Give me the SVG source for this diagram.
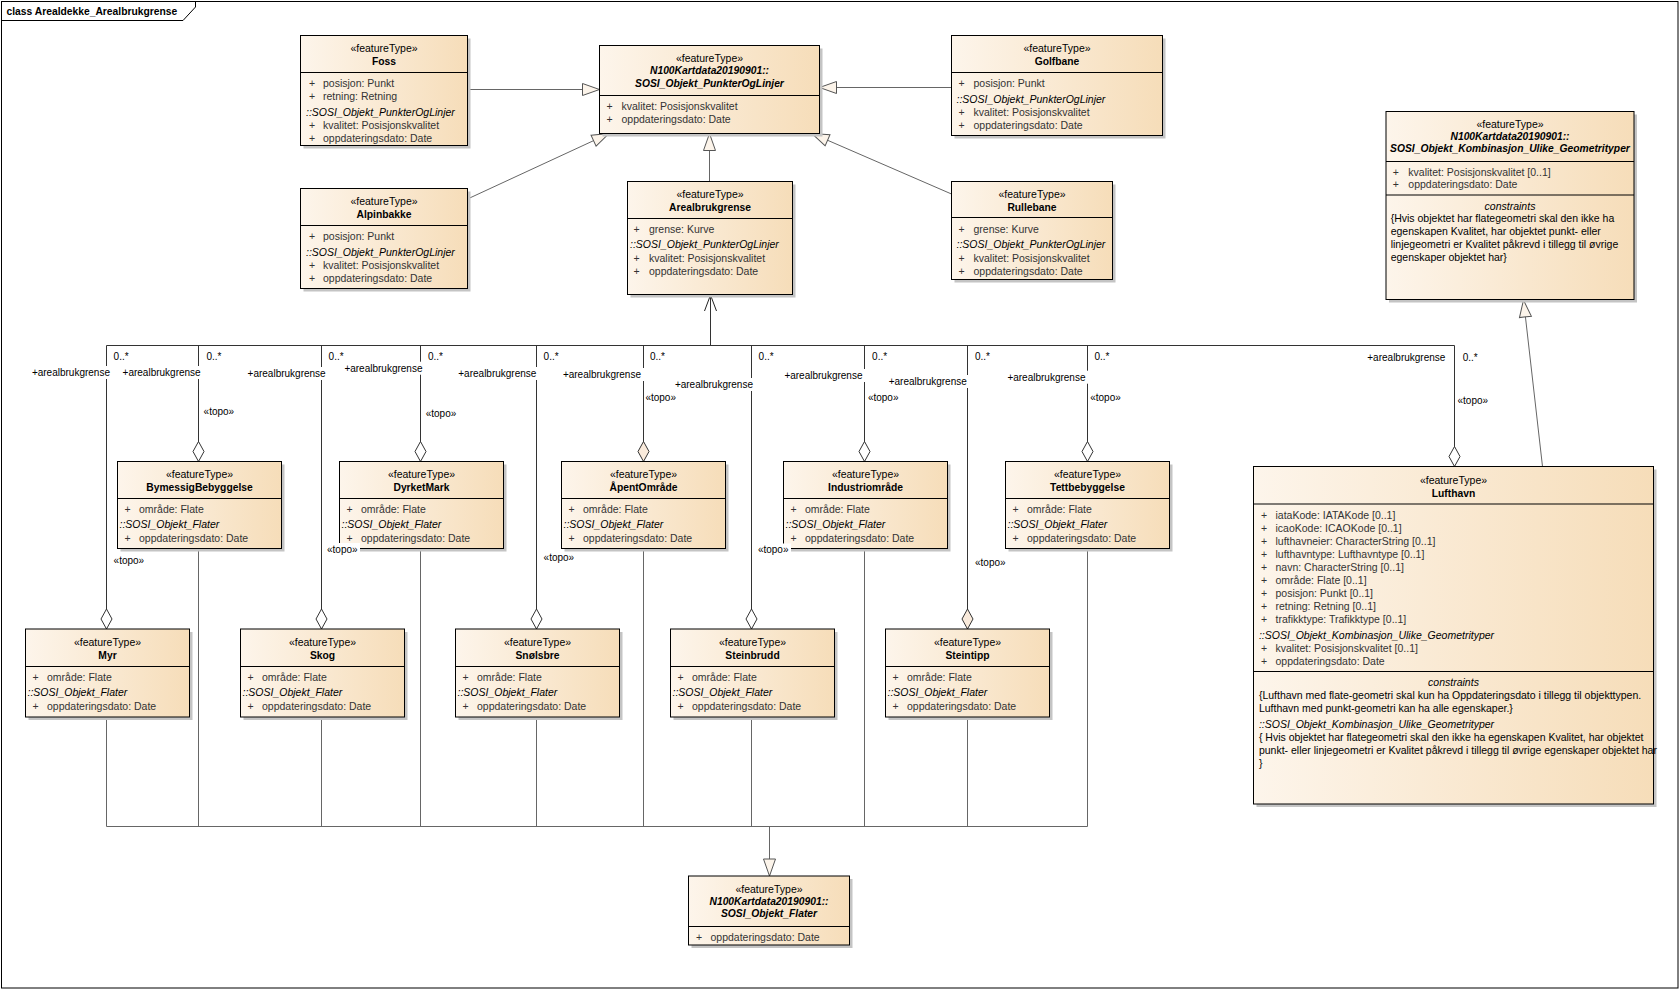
<svg xmlns="http://www.w3.org/2000/svg" width="1680" height="990" viewBox="0 0 1680 990">
<defs>
<linearGradient id="g" x1="0" y1="0" x2="1" y2="0">
<stop offset="0" stop-color="#fdf5eb"/>
<stop offset="1" stop-color="#f6ddb9"/>
</linearGradient>
<marker id="tri" markerUnits="userSpaceOnUse" markerWidth="20" markerHeight="14" refX="17" refY="6" orient="auto" overflow="visible">
<path d="M0,0 L17,6 L0,12 z" fill="#fcf4ea" stroke="#555" stroke-width="1"/>
</marker>
<marker id="dia" markerUnits="userSpaceOnUse" markerWidth="22" markerHeight="13" refX="20" refY="5.5" orient="auto" overflow="visible">
<path d="M0,5.5 L10,0 L20,5.5 L10,11 z" fill="#ffffff" stroke="#333" stroke-width="1"/>
</marker>
<marker id="diab" markerUnits="userSpaceOnUse" markerWidth="22" markerHeight="13" refX="20" refY="5.5" orient="auto" overflow="visible">
<path d="M0,5.5 L10,0 L20,5.5 L10,11 z" fill="#f9eadb" stroke="#333" stroke-width="1"/>
</marker>
<marker id="open" markerUnits="userSpaceOnUse" markerWidth="18" markerHeight="14" refX="16" refY="6" orient="auto" overflow="visible">
<path d="M0,0 L16,6 L0,12" fill="none" stroke="#222" stroke-width="1"/>
</marker>
</defs>
<style>
text{font-family:"Liberation Sans",Arial,sans-serif;font-size:10.5px;fill:#000}
.c{text-anchor:middle}
.e{text-anchor:end}
.b{font-weight:bold;font-size:10.3px}
.i{font-style:italic}
.a{fill:#333}
.l{font-size:10px}
.box{fill:url(#g);stroke:#000;stroke-width:1}
.sh{fill:#c4c4c4}
.sep{stroke:#000;stroke-width:1}
.as{fill:none;stroke:#333;stroke-width:1}
.ge{fill:none;stroke:#666;stroke-width:1}
.bg{fill:#fff}
</style>
<rect width="1680" height="990" fill="#fff"/>
<g id="frame">
<rect x="1.5" y="1.5" width="1676.5" height="986.5" fill="none" stroke="#000"/>
<path d="M1.5,20.5 H183 L195.5,7 V1.5" fill="none" stroke="#000"/>
<text x="6.5" y="14.5" class="b">class Arealdekke_Arealbrukgrense</text>
</g>

<g id="connectors">
<path class="ge" d="M467.5,89.5 H599.5" marker-end="url(#tri)"/>
<path class="ge" d="M951.5,87.5 H819.5" marker-end="url(#tri)"/>
<path class="ge" d="M467.5,199 L609,133.5" marker-end="url(#tri)"/>
<path class="ge" d="M951.5,194 L812,133.5" marker-end="url(#tri)"/>
<path class="ge" d="M709.5,181.5 V133.5" marker-end="url(#tri)"/>
<path class="ge" d="M1542.5,466.5 L1523.5,300" marker-end="url(#tri)"/>
<path class="ge" d="M106.5,716.5 V826.5 M198.5,548.5 V826.5 M321.5,716.5 V826.5 M420.5,548.5 V826.5 M536.5,716.5 V826.5 M643.5,548.5 V826.5 M751.5,716.5 V826.5 M864.5,548.5 V826.5 M967.5,716.5 V826.5 M1087.5,548.5 V826.5 M106.5,826.5 H1087.5"/>
<path class="ge" d="M769.5,826.5 V876" marker-end="url(#tri)"/>
<path class="as" d="M710.5,345.5 V295" marker-end="url(#open)"/>
<path class="as" d="M710.5,345.5 H106.5 V629" marker-end="url(#dia)"/>
<path class="as" d="M710.5,345.5 H198.5 V461.5" marker-end="url(#dia)"/>
<path class="as" d="M710.5,345.5 H321.5 V629" marker-end="url(#dia)"/>
<path class="as" d="M710.5,345.5 H420.5 V461.5" marker-end="url(#dia)"/>
<path class="as" d="M710.5,345.5 H536.5 V629" marker-end="url(#dia)"/>
<path class="as" d="M710.5,345.5 H643.5 V461.5" marker-end="url(#diab)"/>
<path class="as" d="M710.5,345.5 H751.5 V629" marker-end="url(#dia)"/>
<path class="as" d="M710.5,345.5 H864.5 V461.5" marker-end="url(#dia)"/>
<path class="as" d="M710.5,345.5 H967.5 V629" marker-end="url(#diab)"/>
<path class="as" d="M710.5,345.5 H1087.5 V461.5" marker-end="url(#dia)"/>
<path class="as" d="M710.5,345.5 H1454.5 V466.5" marker-end="url(#dia)"/>
<g class="labels">
<rect class="bg" x="30" y="366" width="83" height="13"/>
<rect class="bg" x="120.7" y="366" width="83" height="13"/>
<rect class="bg" x="245.7" y="367" width="83" height="13"/>
<rect class="bg" x="342.5" y="361.7" width="83" height="13"/>
<rect class="bg" x="456.4" y="367" width="83" height="13"/>
<rect class="bg" x="561" y="368" width="85" height="13"/>
<rect class="bg" x="673" y="378" width="83" height="13"/>
<rect class="bg" x="782.5" y="369" width="85" height="13"/>
<rect class="bg" x="886.8" y="375" width="83" height="13"/>
<rect class="bg" x="1005.5" y="370.7" width="85" height="13"/>
<text class="l e" x="110" y="376">+arealbrukgrense</text>
<text class="l e" x="200.7" y="376">+arealbrukgrense</text>
<text class="l e" x="325.7" y="377">+arealbrukgrense</text>
<text class="l e" x="422.5" y="371.7">+arealbrukgrense</text>
<text class="l e" x="536.4" y="377">+arealbrukgrense</text>
<text class="l e" x="641" y="378">+arealbrukgrense</text>
<text class="l e" x="753" y="388">+arealbrukgrense</text>
<text class="l e" x="862.5" y="379">+arealbrukgrense</text>
<text class="l e" x="966.8" y="385">+arealbrukgrense</text>
<text class="l e" x="1085.5" y="380.7">+arealbrukgrense</text>
<text class="l e" x="1445.4" y="360.7">+arealbrukgrense</text>
<text class="l" x="113.6" y="360">0..*</text>
<text class="l" x="206.4" y="360">0..*</text>
<text class="l" x="328.6" y="360">0..*</text>
<text class="l" x="427.9" y="360">0..*</text>
<text class="l" x="543.6" y="360">0..*</text>
<text class="l" x="650" y="360">0..*</text>
<text class="l" x="758.6" y="360">0..*</text>
<text class="l" x="872.1" y="360">0..*</text>
<text class="l" x="975" y="360">0..*</text>
<text class="l" x="1094.5" y="360">0..*</text>
<text class="l" x="1462.7" y="360.7">0..*</text>
<text class="l" x="113.6" y="564">«topo»</text>
<text class="l" x="203.6" y="414.7">«topo»</text>
<text class="l" x="425.7" y="417.3">«topo»</text>
<text class="l" x="543.6" y="560.7">«topo»</text>
<text class="l" x="645.4" y="401.3">«topo»</text>
<text class="l" x="867.9" y="401.3">«topo»</text>
<text class="l" x="975" y="566.3">«topo»</text>
<text class="l" x="1090.2" y="401.3">«topo»</text>
<text class="l" x="1457.5" y="404">«topo»</text>
</g>
</g>

<g id="Foss" transform="translate(300.5,35.5)">
<rect class="sh" x="3" y="3" width="167" height="110"/>
<rect class="box" width="167" height="110"/>
<line class="sep" x1="0" y1="37" x2="167" y2="37"/>
<text class="c" x="83.5" y="16">«featureType»</text>
<text class="c b" x="83.5" y="29">Foss</text>
<text class="a" x="8.5" y="51">+</text><text class="a" x="22.5" y="51">posisjon: Punkt</text>
<text class="a" x="8.5" y="64">+</text><text class="a" x="22.5" y="64">retning: Retning</text>
<text class="i" x="5.5" y="80">::SOSI_Objekt_PunkterOgLinjer</text>
<text class="a" x="8.5" y="93">+</text><text class="a" x="22.5" y="93">kvalitet: Posisjonskvalitet</text>
<text class="a" x="8.5" y="106">+</text><text class="a" x="22.5" y="106">oppdateringsdato: Date</text>
</g>

<g id="SOSI_Objekt_PunkterOgLinjer" transform="translate(599.5,45.5)">
<rect class="sh" x="3" y="3" width="220" height="88"/>
<rect class="box" width="220" height="88"/>
<line class="sep" x1="0" y1="50" x2="220" y2="50"/>
<text class="c" x="110" y="16.5">«featureType»</text>
<text class="c b i" x="110" y="28.5">N100Kartdata20190901::</text>
<text class="c b i" x="110" y="41">SOSI_Objekt_PunkterOgLinjer</text>
<text class="a" x="7" y="64.5">+</text><text class="a" x="22" y="64.5">kvalitet: Posisjonskvalitet</text>
<text class="a" x="7" y="77.5">+</text><text class="a" x="22" y="77.5">oppdateringsdato: Date</text>
</g>

<g id="Golfbane" transform="translate(951.5,35.5)">
<rect class="sh" x="3" y="3" width="211" height="100"/>
<rect class="box" width="211" height="100"/>
<line class="sep" x1="0" y1="37" x2="211" y2="37"/>
<text class="c" x="105.5" y="16.5">«featureType»</text>
<text class="c b" x="105.5" y="29.5">Golfbane</text>
<text class="a" x="7" y="51">+</text><text class="a" x="22" y="51">posisjon: Punkt</text>
<text class="i" x="5" y="67">::SOSI_Objekt_PunkterOgLinjer</text>
<text class="a" x="7" y="80">+</text><text class="a" x="22" y="80">kvalitet: Posisjonskvalitet</text>
<text class="a" x="7" y="93">+</text><text class="a" x="22" y="93">oppdateringsdato: Date</text>
</g>

<g id="Alpinbakke" transform="translate(300.5,188.5)">
<rect class="sh" x="3" y="3" width="167" height="100"/>
<rect class="box" width="167" height="100"/>
<line class="sep" x1="0" y1="37" x2="167" y2="37"/>
<text class="c" x="83.5" y="16">«featureType»</text>
<text class="c b" x="83.5" y="29">Alpinbakke</text>
<text class="a" x="8.5" y="51">+</text><text class="a" x="22.5" y="51">posisjon: Punkt</text>
<text class="i" x="5.5" y="67">::SOSI_Objekt_PunkterOgLinjer</text>
<text class="a" x="8.5" y="80">+</text><text class="a" x="22.5" y="80">kvalitet: Posisjonskvalitet</text>
<text class="a" x="8.5" y="93">+</text><text class="a" x="22.5" y="93">oppdateringsdato: Date</text>
</g>

<g id="Arealbrukgrense" transform="translate(627.5,181.5)">
<rect class="sh" x="3" y="3" width="165" height="113"/>
<rect class="box" width="165" height="113"/>
<line class="sep" x1="0" y1="37" x2="165" y2="37"/>
<text class="c" x="82.5" y="16.5">«featureType»</text>
<text class="c b" x="82.5" y="29">Arealbrukgrense</text>
<text class="a" x="6" y="51.5">+</text><text class="a" x="21.5" y="51.5">grense: Kurve</text>
<text class="i" x="2.5" y="66.5">::SOSI_Objekt_PunkterOgLinjer</text>
<text class="a" x="6" y="80">+</text><text class="a" x="21.5" y="80">kvalitet: Posisjonskvalitet</text>
<text class="a" x="6" y="93">+</text><text class="a" x="21.5" y="93">oppdateringsdato: Date</text>
</g>

<g id="Rullebane" transform="translate(951.5,181.5)">
<rect class="sh" x="3" y="3" width="161" height="98"/>
<rect class="box" width="161" height="98"/>
<line class="sep" x1="0" y1="36" x2="161" y2="36"/>
<text class="c" x="80.5" y="16.5">«featureType»</text>
<text class="c b" x="80.5" y="29">Rullebane</text>
<text class="a" x="7" y="51.5">+</text><text class="a" x="22" y="51.5">grense: Kurve</text>
<text class="i" x="5" y="66.5">::SOSI_Objekt_PunkterOgLinjer</text>
<text class="a" x="7" y="80">+</text><text class="a" x="22" y="80">kvalitet: Posisjonskvalitet</text>
<text class="a" x="7" y="93">+</text><text class="a" x="22" y="93">oppdateringsdato: Date</text>
</g>

<g id="SOSI_Objekt_Kombinasjon_Ulike_Geometrityper" transform="translate(1386,111.5)">
<rect class="sh" x="3" y="3" width="248" height="188"/>
<rect class="box" width="248" height="188"/>
<line class="sep" x1="0" y1="50" x2="248" y2="50"/>
<line class="sep" x1="0" y1="83.5" x2="248" y2="83.5"/>
<text class="c" x="124" y="16.5">«featureType»</text>
<text class="c b i" x="124" y="28">N100Kartdata20190901::</text>
<text class="c b i" x="124" y="40.5">SOSI_Objekt_Kombinasjon_Ulike_Geometrityper</text>
<text class="a" x="6.7" y="64">+</text><text class="a" x="22.3" y="64">kvalitet: Posisjonskvalitet [0..1]</text>
<text class="a" x="6.7" y="76.5">+</text><text class="a" x="22.3" y="76.5">oppdateringsdato: Date</text>
<text class="c i" x="124" y="98.5">constraints</text>
<text x="4.7" y="110.5">{Hvis objektet har flategeometri skal den ikke ha</text>
<text x="4.7" y="123.5">egenskapen Kvalitet, har objektet punkt- eller</text>
<text x="4.7" y="136">linjegeometri er Kvalitet påkrevd i tillegg til øvrige</text>
<text x="4.7" y="149">egenskaper objektet har}</text>
</g>

<g id="BymessigBebyggelse" transform="translate(117.5,461.5)">
<rect class="sh" x="3" y="3" width="164" height="87"/>
<rect class="box" width="164" height="87"/>
<line class="sep" x1="0" y1="37" x2="164" y2="37"/>
<text class="c" x="82" y="16.5">«featureType»</text>
<text class="c b" x="82" y="29">BymessigBebyggelse</text>
<text class="a" x="7" y="51.5">+</text><text class="a" x="21.5" y="51.5">område: Flate</text>
<text class="i" x="2" y="66.5">::SOSI_Objekt_Flater</text>
<text class="a" x="7" y="80">+</text><text class="a" x="21.5" y="80">oppdateringsdato: Date</text>
</g>

<g id="DyrketMark" transform="translate(339.5,461.5)">
<rect class="sh" x="3" y="3" width="164" height="87"/>
<rect class="box" width="164" height="87"/>
<line class="sep" x1="0" y1="37" x2="164" y2="37"/>
<text class="c" x="82" y="16.5">«featureType»</text>
<text class="c b" x="82" y="29">DyrketMark</text>
<text class="a" x="7" y="51.5">+</text><text class="a" x="21.5" y="51.5">område: Flate</text>
<text class="i" x="2" y="66.5">::SOSI_Objekt_Flater</text>
<text class="a" x="7" y="80">+</text><text class="a" x="21.5" y="80">oppdateringsdato: Date</text>
</g>

<g id="ApentOmrade" transform="translate(561.5,461.5)">
<rect class="sh" x="3" y="3" width="164" height="87"/>
<rect class="box" width="164" height="87"/>
<line class="sep" x1="0" y1="37" x2="164" y2="37"/>
<text class="c" x="82" y="16.5">«featureType»</text>
<text class="c b" x="82" y="29">ÅpentOmråde</text>
<text class="a" x="7" y="51.5">+</text><text class="a" x="21.5" y="51.5">område: Flate</text>
<text class="i" x="2" y="66.5">::SOSI_Objekt_Flater</text>
<text class="a" x="7" y="80">+</text><text class="a" x="21.5" y="80">oppdateringsdato: Date</text>
</g>

<g id="Industriomrade" transform="translate(783.5,461.5)">
<rect class="sh" x="3" y="3" width="164" height="87"/>
<rect class="box" width="164" height="87"/>
<line class="sep" x1="0" y1="37" x2="164" y2="37"/>
<text class="c" x="82" y="16.5">«featureType»</text>
<text class="c b" x="82" y="29">Industriområde</text>
<text class="a" x="7" y="51.5">+</text><text class="a" x="21.5" y="51.5">område: Flate</text>
<text class="i" x="2" y="66.5">::SOSI_Objekt_Flater</text>
<text class="a" x="7" y="80">+</text><text class="a" x="21.5" y="80">oppdateringsdato: Date</text>
</g>

<g id="Tettbebyggelse" transform="translate(1005.5,461.5)">
<rect class="sh" x="3" y="3" width="164" height="87"/>
<rect class="box" width="164" height="87"/>
<line class="sep" x1="0" y1="37" x2="164" y2="37"/>
<text class="c" x="82" y="16.5">«featureType»</text>
<text class="c b" x="82" y="29">Tettbebyggelse</text>
<text class="a" x="7" y="51.5">+</text><text class="a" x="21.5" y="51.5">område: Flate</text>
<text class="i" x="2" y="66.5">::SOSI_Objekt_Flater</text>
<text class="a" x="7" y="80">+</text><text class="a" x="21.5" y="80">oppdateringsdato: Date</text>
</g>

<g id="Myr" transform="translate(25.5,629)">
<rect class="sh" x="3" y="3" width="164" height="88"/>
<rect class="box" width="164" height="88"/>
<line class="sep" x1="0" y1="37.5" x2="164" y2="37.5"/>
<text class="c" x="82" y="17">«featureType»</text>
<text class="c b" x="82" y="30">Myr</text>
<text class="a" x="7" y="51.5">+</text><text class="a" x="21.5" y="51.5">område: Flate</text>
<text class="i" x="2" y="67">::SOSI_Objekt_Flater</text>
<text class="a" x="7" y="80.5">+</text><text class="a" x="21.5" y="80.5">oppdateringsdato: Date</text>
</g>

<g id="Skog" transform="translate(240.5,629)">
<rect class="sh" x="3" y="3" width="164" height="88"/>
<rect class="box" width="164" height="88"/>
<line class="sep" x1="0" y1="37.5" x2="164" y2="37.5"/>
<text class="c" x="82" y="17">«featureType»</text>
<text class="c b" x="82" y="30">Skog</text>
<text class="a" x="7" y="51.5">+</text><text class="a" x="21.5" y="51.5">område: Flate</text>
<text class="i" x="2" y="67">::SOSI_Objekt_Flater</text>
<text class="a" x="7" y="80.5">+</text><text class="a" x="21.5" y="80.5">oppdateringsdato: Date</text>
</g>

<g id="Snolsbre" transform="translate(455.5,629)">
<rect class="sh" x="3" y="3" width="164" height="88"/>
<rect class="box" width="164" height="88"/>
<line class="sep" x1="0" y1="37.5" x2="164" y2="37.5"/>
<text class="c" x="82" y="17">«featureType»</text>
<text class="c b" x="82" y="30">Snølsbre</text>
<text class="a" x="7" y="51.5">+</text><text class="a" x="21.5" y="51.5">område: Flate</text>
<text class="i" x="2" y="67">::SOSI_Objekt_Flater</text>
<text class="a" x="7" y="80.5">+</text><text class="a" x="21.5" y="80.5">oppdateringsdato: Date</text>
</g>

<g id="Steinbrudd" transform="translate(670.5,629)">
<rect class="sh" x="3" y="3" width="164" height="88"/>
<rect class="box" width="164" height="88"/>
<line class="sep" x1="0" y1="37.5" x2="164" y2="37.5"/>
<text class="c" x="82" y="17">«featureType»</text>
<text class="c b" x="82" y="30">Steinbrudd</text>
<text class="a" x="7" y="51.5">+</text><text class="a" x="21.5" y="51.5">område: Flate</text>
<text class="i" x="2" y="67">::SOSI_Objekt_Flater</text>
<text class="a" x="7" y="80.5">+</text><text class="a" x="21.5" y="80.5">oppdateringsdato: Date</text>
</g>

<g id="Steintipp" transform="translate(885.5,629)">
<rect class="sh" x="3" y="3" width="164" height="88"/>
<rect class="box" width="164" height="88"/>
<line class="sep" x1="0" y1="37.5" x2="164" y2="37.5"/>
<text class="c" x="82" y="17">«featureType»</text>
<text class="c b" x="82" y="30">Steintipp</text>
<text class="a" x="7" y="51.5">+</text><text class="a" x="21.5" y="51.5">område: Flate</text>
<text class="i" x="2" y="67">::SOSI_Objekt_Flater</text>
<text class="a" x="7" y="80.5">+</text><text class="a" x="21.5" y="80.5">oppdateringsdato: Date</text>
</g>

<g id="Lufthavn" transform="translate(1253.5,466.5)">
<rect class="sh" x="3" y="3" width="400" height="337.5"/>
<rect class="box" width="400" height="337.5"/>
<line class="sep" x1="0" y1="37.5" x2="400" y2="37.5"/>
<line class="sep" x1="0" y1="205" x2="400" y2="205"/>
<text class="c" x="200" y="17.5">«featureType»</text>
<text class="c b" x="200" y="30">Lufthavn</text>
<text class="a" x="7.5" y="52.5">+</text><text class="a" x="22" y="52.5">iataKode: IATAKode [0..1]</text>
<text class="a" x="7.5" y="65.5">+</text><text class="a" x="22" y="65.5">icaoKode: ICAOKode [0..1]</text>
<text class="a" x="7.5" y="78">+</text><text class="a" x="22" y="78">lufthavneier: CharacterString [0..1]</text>
<text class="a" x="7.5" y="91">+</text><text class="a" x="22" y="91">lufthavntype: Lufthavntype [0..1]</text>
<text class="a" x="7.5" y="104">+</text><text class="a" x="22" y="104">navn: CharacterString [0..1]</text>
<text class="a" x="7.5" y="117">+</text><text class="a" x="22" y="117">område: Flate [0..1]</text>
<text class="a" x="7.5" y="130">+</text><text class="a" x="22" y="130">posisjon: Punkt [0..1]</text>
<text class="a" x="7.5" y="143">+</text><text class="a" x="22" y="143">retning: Retning [0..1]</text>
<text class="a" x="7.5" y="156">+</text><text class="a" x="22" y="156">trafikktype: Trafikktype [0..1]</text>
<text class="i" x="5.4" y="172">::SOSI_Objekt_Kombinasjon_Ulike_Geometrityper</text>
<text class="a" x="7.5" y="185">+</text><text class="a" x="22" y="185">kvalitet: Posisjonskvalitet [0..1]</text>
<text class="a" x="7.5" y="198">+</text><text class="a" x="22" y="198">oppdateringsdato: Date</text>
<text class="c i" x="200" y="219">constraints</text>
<text x="5.4" y="232">{Lufthavn med flate-geometri skal kun ha Oppdateringsdato i tillegg til objekttypen.</text>
<text x="5.4" y="245">Lufthavn med punkt-geometri kan ha alle egenskaper.}</text>
<text class="i" x="5.4" y="261">::SOSI_Objekt_Kombinasjon_Ulike_Geometrityper</text>
<text x="5.4" y="274">{ Hvis objektet har flategeometri skal den ikke ha egenskapen Kvalitet, har objektet</text>
<text x="5.4" y="287">punkt- eller linjegeometri er Kvalitet påkrevd i tillegg til øvrige egenskaper objektet har</text>
<text x="5.4" y="300">}</text>
</g>

<g id="SOSI_Objekt_Flater" transform="translate(688.5,876)">
<rect class="sh" x="3" y="3" width="161" height="69"/>
<rect class="box" width="161" height="69"/>
<line class="sep" x1="0" y1="50.5" x2="161" y2="50.5"/>
<text class="c" x="80.5" y="17">«featureType»</text>
<text class="c b i" x="80.5" y="28.5">N100Kartdata20190901::</text>
<text class="c b i" x="80.5" y="41">SOSI_Objekt_Flater</text>
<text class="a" x="7.5" y="64.5">+</text><text class="a" x="22" y="64.5">oppdateringsdato: Date</text>
</g>

<g id="connector-labels-front">
<rect class="bg" x="326" y="543" width="34" height="12"/>
<rect class="bg" x="757" y="543.5" width="34" height="12"/>
<text class="l" x="327" y="552.7">«topo»</text>
<text class="l" x="757.9" y="553.3">«topo»</text>
</g>
</svg>
